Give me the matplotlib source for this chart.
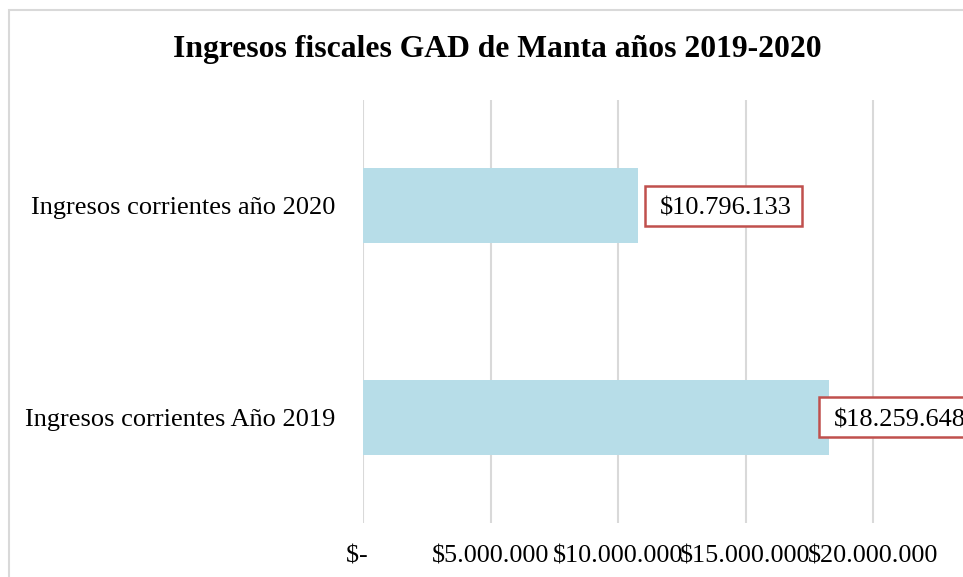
import matplotlib
matplotlib.use("Agg")
import matplotlib.pyplot as plt
from matplotlib.patches import Rectangle
from matplotlib.transforms import Affine2D, ScaledTranslation

categories = ["Ingresos corrientes Año 2019", "Ingresos corrientes año 2020"]
values = [18259648, 10796133]
value_labels = ["$18.259.648", "$10.796.133"]
tick_values = [0, 5000000, 10000000, 15000000, 20000000]
tick_labels = ["$-  ", "$5.000.000", "$10.000.000", "$15.000.000", "$20.000.000"]
title = "Ingresos fiscales GAD de Manta años 2019-2020"

# label box placement (pixels relative to bar end): box left offset
label_box_dx = [-10, 7]

W, H = 963, 577
fig = plt.figure(figsize=(W / 100, H / 100), dpi=100)
plt.rcParams['font.family'] = ['Liberation Serif', 'DejaVu Serif']

# chart border (extends past the right/bottom of the cropped picture)
fig.patches.append(Rectangle((9 / W, -0.1), 1.2, (577 - 10) / H + 0.1,
                             transform=fig.transFigure, fill=False,
                             edgecolor="#D9D9D9", linewidth=1.5))

left = 363 / W
width = 637.5 / W
bottom = (H - 523) / H
height = 423 / H
ax = fig.add_axes([left, bottom, width, height])
ax.set_xlim(0, 25000000)
ax.set_ylim(-0.5, 1.5)

ypos = list(range(len(categories)))
ax.barh(ypos, values, height=0.355, color="#B7DDE8", zorder=2)

ax.set_yticks(ypos)
ax.set_yticklabels(categories, fontsize=19)
ax.set_xticks(tick_values + [25000000])
ax.set_xticklabels(tick_labels + [""], fontsize=18.8)
ax.tick_params(axis="y", length=0, pad=20)
ax.tick_params(axis="x", length=0, pad=16)

for s in ax.spines.values():
    s.set_visible(False)
ax.grid(axis="x", color="#D9D9D9", linewidth=1.5, zorder=0)
ax.set_axisbelow(True)

box_w, box_h, text_pad = 157, 40, 15
for y, v, lab, dx in zip(ypos, values, value_labels, label_box_dx):
    trans = Affine2D() + ScaledTranslation(v, y, ax.transData)
    rect = Rectangle((dx, -box_h / 2), box_w, box_h, transform=trans,
                     facecolor="white", edgecolor="#C0504D", linewidth=1.8,
                     zorder=5, clip_on=False)
    ax.add_patch(rect)
    ax.text(dx + text_pad, -3, lab, transform=trans, ha="left", va="center",
            fontsize=19, color="#000000", zorder=6, clip_on=False)

fig.text(497 / W, 1 - 50 / H, title, ha="center", va="center",
         fontsize=22.8, fontweight="bold")

fig.savefig("out.png", dpi=100)
